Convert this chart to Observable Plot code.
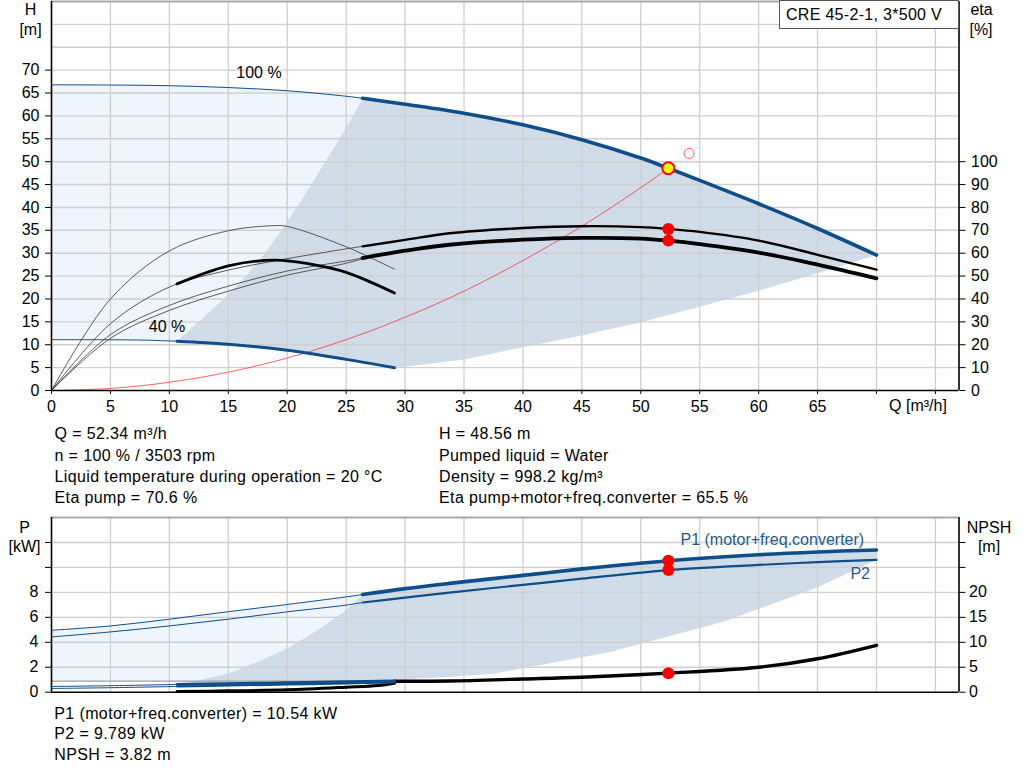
<!DOCTYPE html>
<html><head><meta charset="utf-8">
<script src="https://cdn.jsdelivr.net/npm/d3@7"></script>
<script src="https://cdn.jsdelivr.net/npm/@observablehq/plot@0.6"></script>
<style>
html,body{margin:0;padding:0;background:#fff;}
body{width:1024px;height:781px;position:relative;overflow:hidden;font-family:"Liberation Sans",Arial,sans-serif;color:#000;}
.abs{position:absolute;white-space:nowrap;font-size:16px;}
.c{transform:translate(-50%,-50%);line-height:1;}
.blk{line-height:21.3px;letter-spacing:0.38px;}
svg{position:absolute;left:0;}
</style></head><body>
<script>
// ---------------- data ----------------
const Q_100 = [0, 5, 10, 15, 20, 25, 26.4, 30, 35, 40, 45, 50, 52.34, 55, 60, 65, 70];
const H_100 = [66.8, 66.75, 66.6, 66.2, 65.5, 64.3, 63.85, 62.55, 60.6, 58.05, 54.8, 50.8, 48.56, 45.9, 40.8, 35.4, 29.6];

const Q_40 = [0, 5, 8, 10.65, 15, 20, 25, 29.1];
const H_40 = [11.1, 11.08, 11.0, 10.76, 10.1, 8.8, 6.8, 4.95];

const Q_LEFT = [10.65, 12.5, 14.6, 16.5, 18.1, 19.5, 21.2, 23.8, 25.5, 26.4];
const H_LEFT = [10.76, 15, 20, 25, 30, 35, 41.5, 52.4, 59.6, 63.85];

const Q_LOW = [29.1, 30, 35, 40, 45, 50, 55, 60, 65, 70];
const H_LOW = [4.95, 5.2, 6.8, 9.45, 12.0, 14.9, 18.3, 21.8, 25.6, 29.6];

const Q_ETA = [26.4, 30, 33.76, 40, 45, 50, 52.34, 55, 60, 65, 70];
const ETA_PUMP = [63.0, 65.8, 68.7, 71.0, 71.8, 71.4, 70.6, 69.3, 65.5, 59.3, 52.8];
const ETA_TOTAL = [57.9, 61.1, 63.7, 65.9, 66.7, 66.4, 65.5, 64.0, 60.3, 55.0, 49.0];

const Q_ETA_LO = [0, 5, 10, 15, 20, 25, 26.4];
const ETA_PUMP_LO = [0, 29.2, 45.2, 52.6, 57.6, 61.9, 63.0];
const ETA_MOTOR_LO = [0, 24.4, 37.2, 45.6, 52.2, 56.6, 57.9];
const ETA_TOTAL_LO = [0, 22.8, 35.0, 43.4, 50.4, 55.6, 57.6];

const Q_ETA40 = [0, 5, 10, 15, 18.7, 20, 25, 29.1];
const ETA_PUMP40 = [0, 40.0, 61.0, 69.8, 72.0, 71.7, 62.8, 53.0];
const Q_ETAT40 = [10.65, 15, 19, 22, 25, 29.1];
const ETA_TOTAL40 = [46.6, 54.5, 57.0, 55.2, 51.6, 42.6];

const Q_SYS = [0, 5, 10, 15, 20, 25, 30, 35, 40, 45, 50, 52.34];
const H_SYS = [0, 0.45, 1.8, 4.0, 7.1, 11.1, 16.0, 21.7, 28.4, 35.9, 44.3, 48.56];

const OP_Q = 52.34, OP_H = 48.56, OP_ETA_PUMP = 70.6, OP_ETA_TOTAL = 65.5;
const OP_P1 = 10.54, OP_P2 = 9.789, OP_NPSH = 3.82;
const DUTY_Q = 54.1, DUTY_H = 51.8;

const Q_P = [0, 5, 10, 15, 20, 25, 26.4, 30, 33.76, 40, 45, 52.34, 60, 65, 70];
const P1_100 = [4.96, 5.31, 5.85, 6.45, 7.03, 7.64, 7.83, 8.3, 8.72, 9.36, 9.88, 10.54, 11.02, 11.24, 11.4];
const P2_100 = [4.43, 4.83, 5.31, 5.85, 6.44, 6.98, 7.19, 7.58, 7.98, 8.6, 9.1, 9.789, 10.2, 10.42, 10.6];

const Q_P40 = [0, 5, 10.65, 15, 20, 25, 29.1];
const P1_40 = [0.46, 0.52, 0.62, 0.68, 0.75, 0.83, 0.9];
const P2_40 = [0.3, 0.36, 0.46, 0.53, 0.61, 0.7, 0.78];

const Q_NPSH40 = [10.65, 15, 20, 25, 27.7, 29.1];
const NPSH_40 = [0.13, 0.27, 0.47, 1.0, 1.35, 1.8];
const Q_NPSH = [0, 10, 20, 29.1, 33.76, 40, 45, 52.34, 60, 65, 70];
const NPSH_100 = [2.2, 2.2, 2.2, 2.2, 2.25, 2.65, 3.0, 3.82, 5.0, 6.7, 9.4];

const Q_PLEFT = [10.65, 12.5, 15, 17.5, 20, 22.8, 25, 26.4];
const P_PLEFT = [0.62, 0.95, 1.5, 2.45, 3.5, 5.1, 6.57, 7.83];
const Q_PLOW = [29.1, 33.76, 37.5, 47.4, 57, 64.75, 70];
const P_PLOW = [1.0, 1.21, 1.48, 3.22, 5.64, 8.32, 10.6];

const X_TICKS = [0, 5, 10, 15, 20, 25, 30, 35, 40, 45, 50, 55, 60, 65, 70, 75];
const H_TICKS = [0, 5, 10, 15, 20, 25, 30, 35, 40, 45, 50, 55, 60, 65, 70];
const H_GRID = [5, 10, 15, 20, 25, 30, 35, 40, 45, 50, 55, 60, 65, 70, 75, 80];
const ETA_TICKS = [0, 10, 20, 30, 40, 50, 60, 70, 80, 90, 100];
const P_TICKS = [0, 2, 4, 6, 8, 10, 12];
const NPSH_TICKS = [0, 5, 10, 15, 20, 25, 30];

const TEXT_LEFT = ["Q = 52.34 m³/h", "n = 100 % / 3503 rpm", "Liquid temperature during operation = 20 °C", "Eta pump = 70.6 %"];
const TEXT_RIGHT = ["H = 48.56 m", "Pumped liquid = Water", "Density = 998.2 kg/m³", "Eta pump+motor+freq.converter = 65.5 %"];
const TEXT_BOTTOM = ["P1 (motor+freq.converter) = 10.54 kW", "P2 = 9.789 kW", "NPSH = 3.82 m"];

(function () {
// ---------------- helpers ----------------
const rec = (qs, vs) => qs.map((q, i) => ({q, v: vs[i]}));
const BLUE = "#0d4e8b", LIGHT = "#eef5fc", DARK = "#d0dce7", GRID = "#cfcfcf";
const FONT = "'Liberation Sans', Arial, sans-serif";
const X_MAX = 77;

// ---------------- top chart ----------------
const h100 = rec(Q_100, H_100);
const h40 = rec(Q_40, H_40);
const leftB = rec(Q_LEFT, H_LEFT);
const lowB = rec(Q_LOW, H_LOW);
const darkTop = [...leftB, ...h100.filter(d => d.q > 26.4), ...lowB.slice().reverse(),
  ...h40.filter(d => d.q >= 10.65 && d.q < 29.1).reverse()];
const lightTop = [...h100.filter(d => d.q <= 26.4), ...leftB.slice(0, -1).reverse(),
  ...h40.filter(d => d.q < 10.65).reverse()];

const halfEta = d => d.v / 2;
const etaP = rec(Q_ETA, ETA_PUMP), etaT = rec(Q_ETA, ETA_TOTAL);

const topChart = Plot.plot({
  width: 1024, height: 420,
  marginLeft: 51, marginRight: 65.5, marginTop: 1, marginBottom: 30,
  x: {domain: [0, X_MAX], label: null},
  y: {domain: [0, 85], label: null},
  style: {fontFamily: FONT, fontSize: "16px", color: "#000", background: "transparent", overflow: "visible"},
  marks: [
    Plot.line(lightTop, {x: "q", y: "v", fill: LIGHT, stroke: "none"}),
    Plot.line(darkTop, {x: "q", y: "v", fill: DARK, stroke: "none"}),
    Plot.ruleX(X_TICKS.filter(d => d > 0), {stroke: GRID, strokeWidth: 1.3}),
    Plot.ruleY(H_GRID, {stroke: GRID, strokeWidth: 1.4}),
    Plot.ruleY([85], {stroke: "#a8a8a8", strokeWidth: 2}),
    Plot.line(rec(Q_SYS, H_SYS), {x: "q", y: "v", stroke: "#ff3030", strokeWidth: 0.9, strokeOpacity: 0.85, curve: "catmull-rom"}),
    Plot.line(rec(Q_ETA40, ETA_PUMP40), {x: "q", y: halfEta, stroke: "#333", strokeWidth: 0.8, curve: "catmull-rom"}),
    Plot.line(rec(Q_ETA_LO, ETA_PUMP_LO), {x: "q", y: halfEta, stroke: "#333", strokeWidth: 0.8, curve: "catmull-rom"}),
    Plot.line(rec(Q_ETA_LO, ETA_MOTOR_LO), {x: "q", y: halfEta, stroke: "#333", strokeWidth: 0.8, curve: "catmull-rom"}),
    Plot.line(rec(Q_ETA_LO, ETA_TOTAL_LO), {x: "q", y: halfEta, stroke: "#333", strokeWidth: 0.8, curve: "catmull-rom"}),
    Plot.line(rec(Q_ETAT40, ETA_TOTAL40), {x: "q", y: halfEta, stroke: "#000", strokeWidth: 2.8, curve: "catmull-rom"}),
    Plot.line(etaP, {x: "q", y: halfEta, stroke: "#000", strokeWidth: 2.4, curve: "catmull-rom"}),
    Plot.line(etaT, {x: "q", y: halfEta, stroke: "#000", strokeWidth: 3.8, curve: "catmull-rom"}),
    Plot.line(h40.filter(d => d.q <= 10.65), {x: "q", y: "v", stroke: BLUE, strokeWidth: 1, curve: "catmull-rom"}),
    Plot.line(h40.filter(d => d.q >= 10.65), {x: "q", y: "v", stroke: BLUE, strokeWidth: 3, curve: "catmull-rom"}),
    Plot.line(h100.filter(d => d.q <= 26.4), {x: "q", y: "v", stroke: BLUE, strokeWidth: 1, curve: "catmull-rom"}),
    Plot.line(h100.filter(d => d.q >= 26.4), {x: "q", y: "v", stroke: BLUE, strokeWidth: 3.6, curve: "catmull-rom"}),
    Plot.ruleX([0, X_MAX], {stroke: "#000", strokeWidth: 1.6}),
    Plot.ruleY([0], {stroke: "#000", strokeWidth: 1.6}),
    Plot.dot([{q: OP_Q, v: OP_ETA_PUMP}, {q: OP_Q, v: OP_ETA_TOTAL}], {x: "q", y: halfEta, r: 6, fill: "#ff0000", stroke: "none"}),
    Plot.dot([{q: DUTY_Q, v: DUTY_H}], {x: "q", y: "v", r: 5, fill: "none", stroke: "#ff5a5a", strokeWidth: 1}),
    Plot.dot([{q: OP_Q, v: OP_H}], {x: "q", y: "v", r: 6, fill: "#ffff00", stroke: "#ff0000", strokeWidth: 2}),
    Plot.text([{q: 17.6, v: 69.5, t: "100 %"}, {q: 9.8, v: 13.8, t: "40 %"}], {x: "q", y: "v", text: "t", fontSize: 16, fill: "#000"}),
    Plot.axisX(X_TICKS, {tickSize: 4, tickPadding: 6, tickFormat: d => d <= 65 ? String(d) : "", label: null}),
    Plot.axisY(H_TICKS, {anchor: "left", tickSize: 6, tickPadding: 6, label: null}),
    Plot.axisY(ETA_TICKS.map(e => e / 2), {anchor: "right", tickSize: 6, tickPadding: 6, tickFormat: d => String(d * 2), label: null})
  ]
});
topChart.style.top = "0px";
document.body.appendChild(topChart);

// ---------------- bottom chart ----------------
const p1 = rec(Q_P, P1_100), p2 = rec(Q_P, P2_100);
const p1l = rec(Q_P40, P1_40), p2l = rec(Q_P40, P2_40);
const pLeft = rec(Q_PLEFT, P_PLEFT), pLow = rec(Q_PLOW, P_PLOW);
const npsh = rec(Q_NPSH, NPSH_100), npsh40 = rec(Q_NPSH40, NPSH_40);
const npshP = d => d.v / 2.5;
const darkBot = [...pLeft, ...p1.filter(d => d.q > 26.4), ...pLow.slice().reverse(),
  ...p1l.filter(d => d.q >= 10.65 && d.q < 29.1).reverse()];
const lightBot = [...p1.filter(d => d.q <= 26.4), ...pLeft.slice(0, -1).reverse(),
  ...npsh.filter(d => d.q <= 10).map(d => ({q: d.q, v: d.v / 2.5})).reverse()];

const botChart = Plot.plot({
  width: 1024, height: 200,
  marginLeft: 51, marginRight: 65.5, marginTop: 12, marginBottom: 13.3,
  x: {domain: [0, X_MAX], axis: null, label: null},
  y: {domain: [0, 14], label: null},
  style: {fontFamily: FONT, fontSize: "16px", color: "#000", background: "transparent", overflow: "visible"},
  marks: [
    Plot.line(lightBot, {x: "q", y: "v", fill: LIGHT, stroke: "none"}),
    Plot.line(darkBot, {x: "q", y: "v", fill: DARK, stroke: "none"}),
    Plot.ruleX(X_TICKS.filter(d => d > 0), {stroke: GRID, strokeWidth: 1.3}),
    Plot.ruleY([2, 4, 6, 8, 10, 12], {stroke: GRID, strokeWidth: 1.4}),
    Plot.ruleY([14], {stroke: "#a8a8a8", strokeWidth: 2}),
    Plot.line(npsh.filter(d => d.q <= 29.1), {x: "q", y: npshP, stroke: "#a0a0a0", strokeWidth: 1.2}),
    Plot.line(npsh.filter(d => d.q >= 29.1), {x: "q", y: npshP, stroke: "#000", strokeWidth: 3.4, curve: "catmull-rom"}),
    Plot.line(npsh40, {x: "q", y: npshP, stroke: "#000", strokeWidth: 3, curve: "catmull-rom"}),
    Plot.line(p2l.filter(d => d.q <= 10.65), {x: "q", y: "v", stroke: BLUE, strokeWidth: 1, curve: "catmull-rom"}),
    Plot.line(p1l.filter(d => d.q <= 10.65), {x: "q", y: "v", stroke: BLUE, strokeWidth: 1, curve: "catmull-rom"}),
    Plot.line(p2l.filter(d => d.q >= 10.65), {x: "q", y: "v", stroke: BLUE, strokeWidth: 2, curve: "catmull-rom"}),
    Plot.line(p1l.filter(d => d.q >= 10.65), {x: "q", y: "v", stroke: BLUE, strokeWidth: 3, curve: "catmull-rom"}),
    Plot.line(p2.filter(d => d.q <= 26.4), {x: "q", y: "v", stroke: BLUE, strokeWidth: 1, curve: "catmull-rom"}),
    Plot.line(p1.filter(d => d.q <= 26.4), {x: "q", y: "v", stroke: BLUE, strokeWidth: 1, curve: "catmull-rom"}),
    Plot.line(p2.filter(d => d.q >= 26.4), {x: "q", y: "v", stroke: BLUE, strokeWidth: 2.2, curve: "catmull-rom"}),
    Plot.line(p1.filter(d => d.q >= 26.4), {x: "q", y: "v", stroke: BLUE, strokeWidth: 3.6, curve: "catmull-rom"}),
    Plot.ruleX([0, X_MAX], {stroke: "#000", strokeWidth: 1.6}),
    Plot.ruleY([0], {stroke: "#000", strokeWidth: 1.6}),
    Plot.dot([{q: OP_Q, v: OP_P1}, {q: OP_Q, v: OP_P2}, {q: OP_Q, v: OP_NPSH / 2.5}], {x: "q", y: "v", r: 6, fill: "#ff0000", stroke: "none"}),
    Plot.text([{q: 68.95, v: 12.2, t: "P1 (motor+freq.converter)"}, {q: 69.45, v: 9.5, t: "P2"}],
      {x: "q", y: "v", text: "t", textAnchor: "end", fontSize: 16, fill: "#1f5a93"}),
    Plot.axisY(P_TICKS, {anchor: "left", tickSize: 6, tickPadding: 7, tickFormat: d => d <= 8 ? String(d) : "", label: null}),
    Plot.axisY(NPSH_TICKS.map(n => n / 2.5), {anchor: "right", tickSize: 6, tickPadding: 4, tickFormat: d => { const n = Math.round(d * 2.5); return n <= 20 ? String(n) : ""; }, label: null})
  ]
});
botChart.style.top = "505px";
document.body.appendChild(botChart);

// ---------------- html text ----------------
function addDiv(html, style, cls) {
  const d = document.createElement("div");
  d.className = "abs " + (cls || "");
  d.innerHTML = html;
  Object.assign(d.style, style);
  document.body.appendChild(d);
  return d;
}
addDiv("H", {left: "30.5px", top: "10px"}, "c");
addDiv("[m]", {left: "30.5px", top: "30px"}, "c");
addDiv("eta", {left: "981.5px", top: "10px"}, "c");
addDiv("[%]", {left: "981px", top: "30px"}, "c");
addDiv("Q [m³/h]", {left: "918px", top: "405.5px"}, "c");
addDiv("P", {left: "24.5px", top: "527.5px"}, "c");
addDiv("[kW]", {left: "24.5px", top: "546.5px"}, "c");
addDiv("NPSH", {left: "989px", top: "527.5px"}, "c");
addDiv("[m]", {left: "989px", top: "547px"}, "c");
addDiv("CRE 45-2-1, 3*500 V", {left: "779px", top: "0px", width: "178px", height: "27px", border: "1px solid #555",
  background: "#fff", boxSizing: "content-box", lineHeight: "27px", textIndent: "6px", letterSpacing: "0.3px"});
addDiv(TEXT_LEFT.join("<br>"), {left: "54.5px", top: "423.4px"}, "blk");
addDiv(TEXT_RIGHT.join("<br>"), {left: "439px", top: "423.4px"}, "blk");
addDiv(TEXT_BOTTOM.join("<br>"), {left: "54.3px", top: "703.6px", lineHeight: "20.8px"}, "blk");
})();
</script>
</body></html>
